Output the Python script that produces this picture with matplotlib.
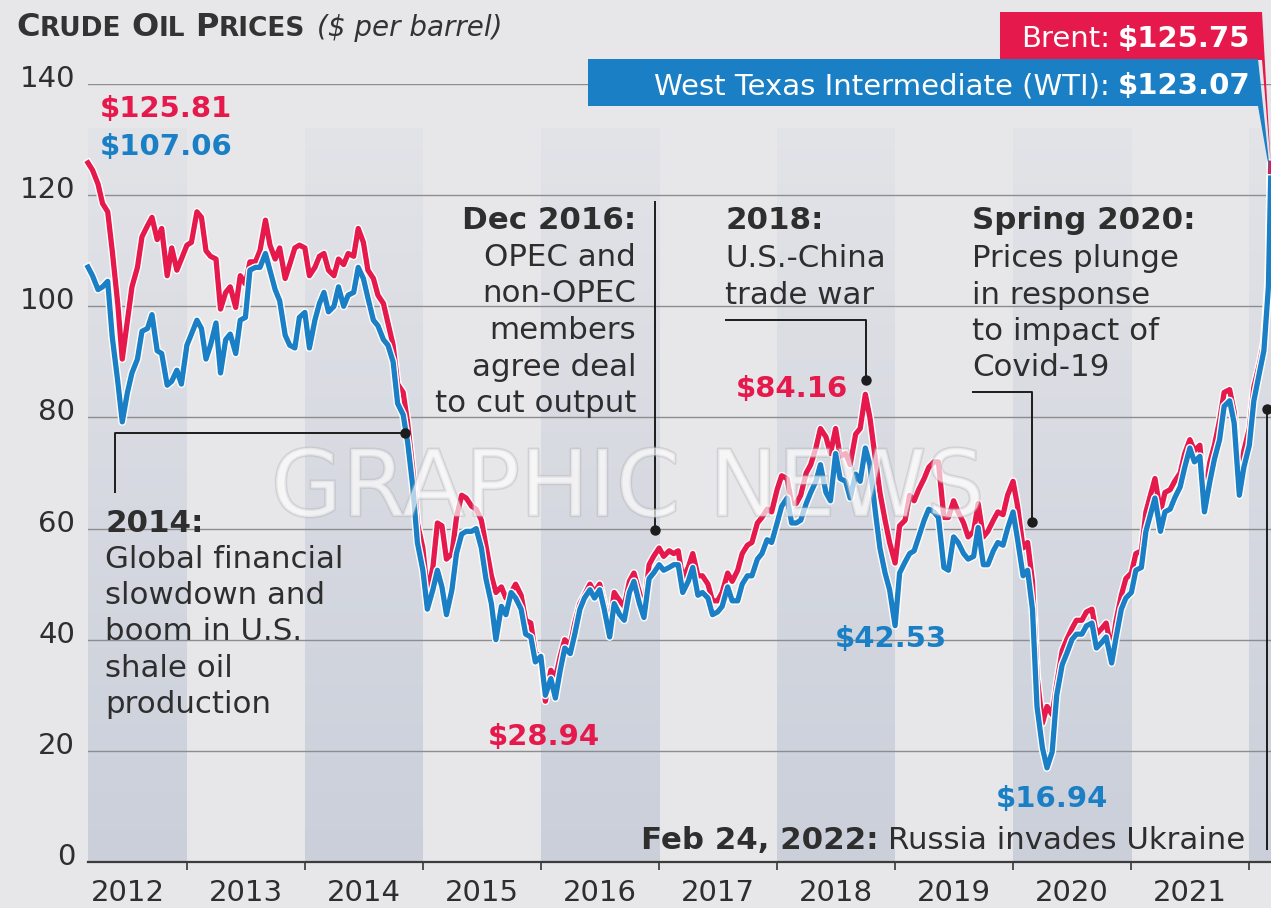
import matplotlib
matplotlib.use("Agg")
import matplotlib.pyplot as plt
import matplotlib.dates as mdates
import matplotlib.patheffects as pe
import matplotlib.transforms as mtransforms
from matplotlib.patches import Polygon
import numpy as np
import pandas as pd

plt.rcParams['font.family'] = ['DejaVu Sans']

W, H = 1271, 908
BG = '#e7e7ea'
BAND = (0.795, 0.815, 0.855)
RED = '#e5194b'
BLUE = '#1a7fc4'
INK = '#2e2e2e'

# readings on the 1st and 15th of each month, Mar 2012 .. Mar 1 2022, then Mar 8 2022
dates = list(pd.date_range('2012-03-01', '2022-03-01', freq='SMS')) + [pd.Timestamp('2022-03-08')]

brent = [
    125.81, 124.5, 122.0, 118.5, 117.0, 110.0, 100.5, 90.5, 97.5, 103.5,                       # 2012
    107.0, 112.5, 114.5, 116.0, 112.0, 114.0, 105.5, 110.5, 106.5, 108.5,
    111.0, 111.5, 117.0, 116.0, 110.0, 109.0, 108.5, 99.5, 102.5, 103.5, 99.8, 105.5,          # 2013
    104.0, 108.0, 108.0, 110.0, 115.5, 111.0, 108.5, 110.5, 105.0, 107.5, 110.5, 111.0,
    110.5, 105.5, 107.0, 109.0, 109.5, 106.5, 105.5, 108.5, 107.5, 109.5, 109.0, 114.0,        # 2014
    111.5, 106.5, 105.0, 102.0, 100.5, 97.0, 93.0, 86.0, 84.5, 79.0, 70.5, 61.0,
    56.5, 48.5, 53.0, 61.0, 60.5, 54.5, 55.5, 62.0, 66.0, 65.5, 64.0, 63.5,                    # 2015
    61.5, 57.0, 51.5, 48.5, 49.5, 47.5, 48.5, 50.0, 48.0, 43.5, 43.0, 37.5,
    37.0, 28.94, 34.5, 33.0, 37.0, 40.0, 39.0, 43.0, 46.5, 48.0, 50.0, 48.5,                   # 2016
    50.0, 46.5, 42.5, 48.5, 47.0, 46.0, 50.5, 52.0, 48.5, 45.5, 53.5, 55.0,
    56.5, 55.0, 56.0, 55.5, 56.0, 51.0, 53.0, 55.5, 51.5, 51.5, 50.0, 47.0,                    # 2017
    47.0, 48.5, 52.0, 50.5, 52.5, 55.5, 57.0, 57.5, 61.0, 62.0, 63.5, 63.0,
    67.0, 69.5, 69.0, 64.5, 64.5, 66.0, 70.0, 71.5, 74.5, 78.0, 76.5, 73.5,                    # 2018
    78.0, 73.0, 73.5, 71.5, 77.0, 78.0, 84.16, 80.0, 72.5, 66.5, 61.5, 57.5,
    53.8, 60.5, 61.5, 66.0, 65.0, 67.0, 69.0, 71.0, 72.0, 72.0, 62.0, 62.0,                    # 2019
    65.0, 63.0, 61.0, 58.5, 59.5, 64.5, 58.5, 59.5, 61.5, 63.0, 62.5, 66.0,
    68.5, 64.0, 56.5, 57.5, 50.5, 33.5, 25.0, 28.0, 26.5, 32.0, 38.0, 40.0,                    # 2020
    42.0, 43.5, 43.5, 45.0, 45.5, 41.0, 42.0, 43.0, 38.0, 43.5, 48.0, 51.0,
    52.0, 55.5, 56.0, 63.0, 66.0, 69.0, 63.0, 66.5, 67.0, 68.5, 70.0, 73.5,                    # 2021
    76.0, 74.0, 75.0, 65.5, 72.0, 75.0, 79.5, 84.5, 85.0, 81.0, 69.0, 74.0,
    78.0, 85.5, 89.5, 93.5, 105.0, 125.75,                                                      # 2022
]

wti = [
    107.06, 105.5, 103.0, 103.5, 104.5, 94.5, 86.5, 79.2, 84.5, 88.0,                           # 2012
    90.5, 95.5, 96.0, 98.5, 92.0, 91.5, 85.8, 86.5, 88.5, 86.0,
    93.0, 95.0, 97.5, 96.0, 90.5, 93.0, 97.0, 88.0, 94.0, 95.0, 91.5, 97.5,                    # 2013
    98.0, 106.5, 107.0, 107.0, 109.5, 106.5, 103.0, 101.0, 94.8, 93.0, 92.5, 98.0,
    98.9, 92.5, 97.5, 100.5, 102.5, 99.0, 100.0, 103.5, 100.0, 102.0, 102.5, 107.0,            # 2014
    105.0, 101.5, 97.5, 96.5, 94.0, 93.0, 90.0, 82.5, 80.5, 75.5, 67.5, 57.5,
    52.5, 45.5, 49.0, 52.5, 49.5, 44.5, 49.0, 55.5, 59.0, 59.5, 59.5, 60.0,                    # 2015
    56.5, 51.0, 46.5, 40.0, 46.0, 44.5, 48.5, 47.5, 45.5, 41.0, 40.5, 36.0,
    37.0, 30.0, 33.0, 29.5, 34.5, 38.5, 37.5, 41.0, 45.5, 47.5, 49.0, 47.5,                    # 2016
    49.0, 45.5, 40.5, 46.5, 44.5, 43.5, 48.5, 50.5, 46.5, 44.0, 51.0, 52.0,
    53.5, 52.5, 53.0, 53.5, 53.5, 48.5, 50.5, 53.0, 48.0, 48.5, 47.5, 44.5,                    # 2017
    45.0, 46.0, 49.5, 47.0, 47.0, 50.0, 51.5, 51.5, 54.5, 55.5, 58.0, 57.5,
    61.0, 64.0, 65.5, 61.0, 61.0, 61.5, 64.5, 66.5, 68.5, 71.5, 66.5, 65.0,                    # 2018
    73.5, 69.0, 68.5, 65.5, 69.8, 68.5, 74.5, 71.5, 63.0, 56.5, 52.0, 49.0,
    42.53, 52.0, 54.0, 55.5, 56.0, 58.5, 61.5, 63.5, 63.0, 62.0, 53.0, 52.5,                   # 2019
    58.5, 57.5, 55.5, 54.5, 55.0, 60.2, 53.5, 53.5, 56.0, 57.5, 57.0, 60.0,
    63.0, 58.0, 51.5, 52.5, 45.5, 28.0, 20.5, 16.94, 19.8, 30.0, 35.5, 37.5,                   # 2020
    40.0, 41.0, 41.0, 42.5, 43.0, 38.5, 39.5, 40.5, 35.8, 40.5, 45.5, 47.5,
    48.5, 52.5, 53.0, 59.5, 62.5, 65.5, 59.5, 63.0, 63.5, 65.5, 67.5, 71.0,                    # 2021
    74.5, 72.0, 73.0, 63.0, 68.5, 72.5, 76.0, 82.0, 83.0, 79.0, 66.0, 71.0,
    75.0, 83.0, 88.0, 92.0, 103.5, 123.07,                                                      # 2022
]

year_labels = ['2012', '2013', '2014', '2015', '2016', '2017', '2018', '2019', '2020', '2021']
shaded_years = [2012, 2014, 2016, 2018, 2020, 2022]
y_ticks = [0, 20, 40, 60, 80, 100, 120, 140]


def fx(px):
    return px / W


def fy(py):
    return 1 - py / H


fig = plt.figure(figsize=(W / 100, H / 100), dpi=100, facecolor=BG)
ax = fig.add_axes([fx(88), fy(862), (W - 88) / W, (862 - 84) / H])
ax.set_facecolor(BG)

x = mdates.date2num(dates)
xmin = mdates.date2num(pd.Timestamp('2012-03-01'))
xmax = mdates.date2num(pd.Timestamp('2022-03-09'))

# alternating year bands, fading out towards the top
grad = np.zeros((256, 1, 4))
grad[..., :3] = BAND
grad[:, 0, 3] = np.linspace(0.15, 1.0, 256)
for yr in shaded_years:
    a = max(mdates.date2num(pd.Timestamp(f'{yr}-01-01')), xmin)
    b = min(mdates.date2num(pd.Timestamp(f'{yr + 1}-01-01')), xmax)
    ax.imshow(grad, extent=(a, b, 0, 132), aspect='auto', origin='upper',
              interpolation='bilinear', zorder=0.5)

for v in y_ticks[1:]:
    ax.axhline(v, color='#8d8d8f', lw=1.0, zorder=1)

halo = [pe.Stroke(linewidth=5.8, foreground='white'), pe.Normal()]
ax.plot(x, brent, color=RED, lw=3.8, solid_joinstyle='round', path_effects=halo,
        zorder=3, clip_on=False)
ax.plot(x, wti, color=BLUE, lw=3.8, solid_joinstyle='round', path_effects=halo,
        zorder=4, clip_on=False)

ax.set_xlim(xmin, xmax)
ax.set_ylim(0, 140)

for s in ['top', 'left', 'right']:
    ax.spines[s].set_visible(False)
ax.spines['bottom'].set_color('#3c3c3c')
ax.spines['bottom'].set_linewidth(1.6)
ax.spines['bottom'].set_zorder(6)

bounds = [mdates.date2num(pd.Timestamp(f'{y}-01-01')) for y in range(2013, 2023)]
mids = [mdates.date2num(pd.Timestamp(f'{y}-07-02')) for y in year_labels]
ax.set_xticks(bounds)
ax.set_xticklabels([])
ax.set_xticks(mids, minor=True)
ax.set_xticklabels(year_labels, minor=True)
ax.tick_params(axis='x', which='major', length=6, width=1.3, color='#444', direction='out')
ax.tick_params(axis='x', which='minor', length=0, pad=12, labelsize=21, labelcolor=INK)
ax.set_yticks([])
for v in y_ticks:
    ax.annotate(str(v), xy=(0, v), xycoords=('axes fraction', 'data'), xytext=(-13, 5),
                textcoords='offset pixels', ha='right', va='center', fontsize=21,
                color=INK, annotation_clip=False)

# event leaders (data coordinates) with a dot on the curve
k = dict(color='#1c1c1c', lw=1.4, zorder=5, clip_on=False, solid_capstyle='butt')
d = mdates.date2num
lead_2014 = ([d(pd.Timestamp('2012-05-23')), d(pd.Timestamp('2012-05-23')), d(pd.Timestamp('2014-11-06'))], [66.4, 77.2, 77.2])
lead_2016 = ([d(pd.Timestamp('2016-12-20'))] * 2, [119.0, 59.7])
lead_2018 = ([d(pd.Timestamp('2017-07-24')), d(pd.Timestamp('2018-10-03')), d(pd.Timestamp('2018-10-03'))], [97.5, 97.5, 86.7])
lead_2020 = ([d(pd.Timestamp('2019-08-28')), d(pd.Timestamp('2020-02-28')), d(pd.Timestamp('2020-02-28'))], [84.6, 84.6, 61.2])
lead_2022 = ([d(pd.Timestamp('2022-02-24'))] * 2, [2.2, 81.5])
for lx, ly in [lead_2014, lead_2016, lead_2018, lead_2020, lead_2022]:
    ax.plot(lx, ly, **k)
    ax.plot(lx[-1], ly[-1], 'o', color='#1c1c1c', ms=6.5, zorder=5, clip_on=False)

# watermark
wm_tr = mtransforms.blended_transform_factory(ax.transAxes, ax.transData)
ax.text(0.456, 62.3, 'GRAPHIC NEWS', transform=wm_tr,
        ha='center', va='baseline', fontsize=66, color='white', alpha=0.42, zorder=7,
        path_effects=[pe.withStroke(linewidth=2, foreground=(0.7, 0.7, 0.72, 0.5))])

renderer = fig.canvas.get_renderer()


def put_runs(xp, yp, parts, ha='left'):
    made = [fig.text(0, 0, s, va='baseline', **p) for s, p, g in parts]
    widths = [t.get_window_extent(renderer).width for t in made]
    total = sum(widths) + sum(g for _, _, g in parts[:-1])
    cx = xp - total if ha == 'right' else xp
    for t, w, (s, p, g) in zip(made, widths, parts):
        t.set_position((fx(cx), fy(yp)))
        cx += w + g


FS = 22.2
bold = dict(fontsize=FS, fontweight='bold', color=INK)
reg = dict(fontsize=FS, color=INK)

# title in small caps
big = dict(fontsize=23, fontweight='bold', color='#333')
small = dict(fontsize=19, fontweight='bold', color='#333')
put_runs(16, 36, [('C', big, 0), ('RUDE', small, 10), ('O', big, 0), ('IL', small, 10),
                  ('P', big, 0), ('RICES', small, 12),
                  ('($ per barrel)', dict(fontsize=20, style='italic', color='#333'), 0)])

# event texts
put_runs(105, 532, [('2014:', bold, 0)])
for i, s in enumerate(['Global financial', 'slowdown and', 'boom in U.S.', 'shale oil', 'production']):
    put_runs(105, 568 + 36.2 * i, [(s, reg, 0)])

put_runs(636, 229, [('Dec 2016:', bold, 0)], ha='right')
for i, s in enumerate(['OPEC and', 'non-OPEC', 'members', 'agree deal', 'to cut output']):
    put_runs(636, 266 + 36.5 * i, [(s, reg, 0)], ha='right')

put_runs(725, 229, [('2018:', bold, 0)])
for i, s in enumerate(['U.S.-China', 'trade war']):
    put_runs(725, 267 + 36.5 * i, [(s, reg, 0)])

put_runs(972, 229, [('Spring 2020:', bold, 0)])
for i, s in enumerate(['Prices plunge', 'in response', 'to impact of', 'Covid-19']):
    put_runs(972, 267 + 36.5 * i, [(s, reg, 0)])

put_runs(1245, 849, [('Feb 24, 2022:', bold, 9), ('Russia invades Ukraine', reg, 0)], ha='right')

# price call-outs
pr = dict(fontsize=21, fontweight='bold')
put_runs(100, 117, [('$125.81', dict(pr, color=RED), 0)])
put_runs(100, 155, [('$107.06', dict(pr, color=BLUE), 0)])
put_runs(848, 397, [('$84.16', dict(pr, color=RED), 0)], ha='right')
put_runs(835, 647, [('$42.53', dict(pr, color=BLUE), 0)])
put_runs(488, 745, [('$28.94', dict(pr, color=RED), 0)])
put_runs(996, 807, [('$16.94', dict(pr, color=BLUE), 0)])

# end-value flags pointing at the last readings
inv = fig.transFigure.inverted()
tip_b = inv.transform(ax.transData.transform((x[-1], brent[-1])))
tip_w = inv.transform(ax.transData.transform((x[-1], wti[-1])))
fig.add_artist(Polygon([(fx(1000), fy(12)), (fx(1262), fy(12)), tuple(tip_b), (fx(1262), fy(60)),
                        (fx(1000), fy(60))], closed=True, transform=fig.transFigure,
                       facecolor=RED, edgecolor='none', zorder=2))
fig.add_artist(Polygon([(fx(588), fy(59)), (fx(1258), fy(59)), tuple(tip_w), (fx(1258), fy(106)),
                        (fx(588), fy(106))], closed=True, transform=fig.transFigure,
                       facecolor=BLUE, edgecolor='none', zorder=2))
wb = dict(fontsize=21, fontweight='bold', color='white')
wr = dict(fontsize=21, color='white')
put_runs(1250, 47, [('Brent:', wr, 8), ('$125.75', wb, 0)], ha='right')
put_runs(1250, 94, [('West Texas Intermediate (WTI):', wr, 8), ('$123.07', wb, 0)], ha='right')

fig.savefig('out.png', dpi=100, facecolor=BG)
